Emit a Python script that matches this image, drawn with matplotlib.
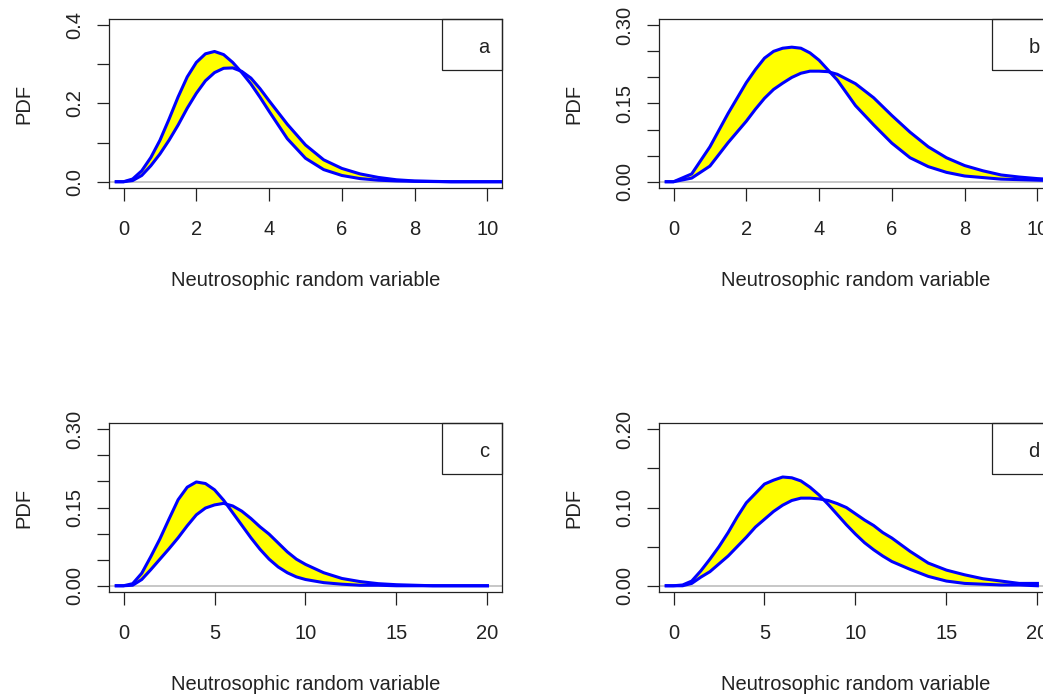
import numpy as np
import matplotlib
matplotlib.use("Agg")
import matplotlib.pyplot as plt
from matplotlib.patches import Rectangle

plt.rcParams['font.family'] = ['Liberation Sans', 'DejaVu Sans']
plt.rcParams['font.size'] = 14.5

# ---- data (two pdf curves per panel) ----
x_a = [-0.2, 0, 0.25, 0.5, 0.75, 1, 1.25, 1.5, 1.75, 2, 2.25, 2.5, 2.75, 3, 3.25,
       3.5, 3.75, 4, 4.5, 5, 5.5, 6, 6.5, 7, 7.5, 8, 9, 10, 11]
pdf_a1 = [0, 0, 0.007, 0.028, 0.062, 0.106, 0.160, 0.217, 0.268, 0.305, 0.327, 0.333,
          0.325, 0.305, 0.279, 0.250, 0.216, 0.180, 0.110, 0.060, 0.031, 0.016, 0.008,
          0.004, 0.002, 0.001, 0, 0, 0]
pdf_a2 = [0, 0, 0.003, 0.016, 0.041, 0.071, 0.106, 0.145, 0.188, 0.226, 0.258, 0.279,
          0.290, 0.291, 0.282, 0.265, 0.238, 0.207, 0.147, 0.094, 0.056, 0.034, 0.020,
          0.011, 0.005, 0.002, 0, 0, 0]

x_b = [-0.2, 0, 0.5, 1, 1.5, 2, 2.25, 2.5, 2.75, 3, 3.25, 3.5, 3.75, 4, 4.25, 4.5,
       5, 5.5, 6, 6.5, 7, 7.5, 8, 8.5, 9, 9.5, 10, 10.5, 11, 12]
pdf_b1 = [0, 0, 0.015, 0.067, 0.131, 0.190, 0.215, 0.237, 0.250, 0.256, 0.258, 0.256,
          0.247, 0.233, 0.214, 0.195, 0.146, 0.109, 0.074, 0.046, 0.029, 0.018, 0.011,
          0.008, 0.005, 0.004, 0.003, 0.002, 0.001, 0]
pdf_b2 = [0, 0, 0.007, 0.030, 0.075, 0.116, 0.139, 0.160, 0.177, 0.189, 0.200, 0.208,
          0.212, 0.212, 0.211, 0.206, 0.188, 0.161, 0.127, 0.095, 0.067, 0.046, 0.031,
          0.021, 0.013, 0.009, 0.006, 0.004, 0.003, 0.001]

x_c = [-0.4, 0, 0.5, 1, 1.5, 2, 2.5, 3, 3.5, 4, 4.5, 5, 5.5, 6, 6.5, 7, 7.5, 8, 8.5,
       9, 9.5, 10, 11, 12, 13, 14, 15, 16, 17, 18, 19, 20]
pdf_c1 = [0, 0, 0.004, 0.024, 0.056, 0.090, 0.128, 0.165, 0.189, 0.199, 0.196, 0.184,
          0.164, 0.140, 0.116, 0.092, 0.070, 0.051, 0.036, 0.025, 0.017, 0.012, 0.006,
          0.003, 0.001, 0.001, 0, 0, 0, 0, 0, 0]
pdf_c2 = [0, 0, 0.001, 0.012, 0.031, 0.051, 0.071, 0.092, 0.115, 0.136, 0.149, 0.155,
          0.158, 0.153, 0.143, 0.129, 0.113, 0.099, 0.082, 0.065, 0.051, 0.041, 0.025,
          0.014, 0.008, 0.004, 0.002, 0.001, 0, 0, 0, 0]

x_d = [-0.4, 0, 0.5, 1, 1.5, 2, 2.5, 3, 3.5, 4, 4.5, 5, 5.5, 6, 6.5, 7, 7.5, 8, 8.5,
       9, 9.5, 10, 10.5, 11, 11.5, 12, 13, 14, 15, 16, 17, 18, 19, 20]
pdf_d1 = [0, 0, 0.001, 0.006, 0.019, 0.034, 0.050, 0.068, 0.088, 0.106, 0.118, 0.130,
          0.135, 0.139, 0.138, 0.134, 0.126, 0.116, 0.104, 0.091, 0.078, 0.066, 0.055,
          0.046, 0.038, 0.031, 0.021, 0.012, 0.006, 0.003, 0.002, 0.001, 0.001, 0]
pdf_d2 = [0, 0, 0, 0.003, 0.011, 0.018, 0.028, 0.038, 0.050, 0.062, 0.075, 0.085,
          0.095, 0.103, 0.109, 0.112, 0.112, 0.111, 0.109, 0.105, 0.100, 0.092, 0.084,
          0.077, 0.068, 0.061, 0.044, 0.029, 0.020, 0.014, 0.009, 0.006, 0.003, 0.003]

xticks_10 = [0, 2, 4, 6, 8, 10]
xticks_20 = [0, 5, 10, 15, 20]
yticks_a = [0, 0.1, 0.2, 0.3, 0.4]
ylabels_a = ['0.0', '', '0.2', '', '0.4']
yticks_bc = [0, 0.05, 0.10, 0.15, 0.20, 0.25, 0.30]
ylabels_bc = ['0.00', '', '', '0.15', '', '', '0.30']
yticks_d = [0, 0.05, 0.10, 0.15, 0.20]
ylabels_d = ['0.00', '', '0.10', '', '0.20']


def draw_panel(ax, x, y1, y2, xticks, yticks, ylabels, tag):
    ax.axhline(0, color='#BEBEBE', lw=1.2, zorder=1)
    ax.fill_between(x, y1, y2, color='yellow', lw=0, zorder=2)
    ax.plot(x, y1, color='blue', lw=2.2, zorder=3)
    ax.plot(x, y2, color='blue', lw=2.2, zorder=3)
    xm, ym = xticks[-1], yticks[-1]
    ax.set_xlim(-0.04 * xm, 1.04 * xm)
    ax.set_ylim(-0.04 * ym, 1.04 * ym)
    ax.set_xticks(xticks)
    ax.set_yticks(yticks)
    ax.set_yticklabels(ylabels, rotation=90, va='center')
    ax.tick_params(direction='out', length=9, width=0.9, colors='#222222')
    ax.tick_params(axis='x', pad=14.3)
    ax.tick_params(axis='y', pad=8.6)
    for s in ax.spines.values():
        s.set_linewidth(0.9)
        s.set_color('#222222')
    ax.set_xlabel('Neutrosophic random variable', labelpad=22.5, color='#222222')
    ax.set_ylabel('PDF', labelpad=23.5, color='#222222')
    ax.add_patch(Rectangle((0.847, 0.698), 0.153, 0.302, transform=ax.transAxes,
                           fill=False, lw=0.9, ec='#222222', clip_on=False))
    ax.text(0.954, 0.834, tag, transform=ax.transAxes, ha='center', va='center',
            color='#222222')


fig = plt.figure(figsize=(10.43, 6.96), dpi=100)
w, h = 0.3768, 0.2428
ax_a = fig.add_axes([0.1045, 0.7299, w, h])
ax_b = fig.add_axes([0.6318, 0.7299, w, h])
ax_c = fig.add_axes([0.1045, 0.1494, w, h])
ax_d = fig.add_axes([0.6318, 0.1494, w, h])

draw_panel(ax_a, x_a, pdf_a1, pdf_a2, xticks_10, yticks_a, ylabels_a, 'a')
draw_panel(ax_b, x_b, pdf_b1, pdf_b2, xticks_10, yticks_bc, ylabels_bc, 'b')
draw_panel(ax_c, x_c, pdf_c1, pdf_c2, xticks_20, yticks_bc, ylabels_bc, 'c')
draw_panel(ax_d, x_d, pdf_d1, pdf_d2, xticks_20, yticks_d, ylabels_d, 'd')

fig.savefig('out.png', dpi=100)
